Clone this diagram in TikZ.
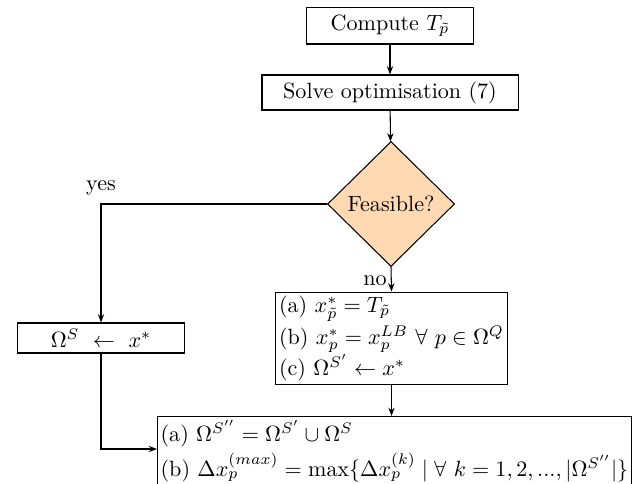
\RequirePackage{fix-cm}
\documentclass[tikz,border=0pt]{standalone}
\usetikzlibrary{shapes.geometric,arrows.meta}
\begin{document}
\begin{tikzpicture}[x=0.48pt,y=-0.48pt,
  line width=0.5pt,
  font=\fontsize{10.6pt}{12.7pt}\selectfont,
  >={Stealth[length=4pt,width=3pt]},
  stepbox/.style={draw,rectangle,inner sep=1pt},
  decision/.style={draw,diamond,aspect=1,fill=orange!30,inner sep=0pt,
    minimum width=61pt,minimum height=60pt},
  listbox/.style={draw,rectangle,align=left,inner xsep=1.5pt,inner ysep=1pt}]
  \useasboundingbox (0,0) rectangle (643,483);
  \clip (0,0) rectangle (643,483);

  % main column
  \node[stepbox,minimum width=80.6pt,minimum height=17.3pt] (comp) at (390,26) {Compute $T_{\tilde p}$};
  \node[stepbox,minimum width=122.9pt,minimum height=16.8pt] (solve) at (390,92.5) {Solve optimisation (7)};
  \node[decision] (feas) at (391,204) {Feasible?};
  \node[listbox,minimum width=110pt,minimum height=44.6pt] (upd) at (391.5,338.5)
    {(a) $x^*_{\tilde p} = T_{\tilde p}$\\[1pt]
     (b) $x^*_p = x^{LB}_p \ \forall\ p \in \Omega^Q$\\
     (c) $\Omega^{S'} \leftarrow x^*$};

  % feasible branch
  \node[stepbox,minimum width=80.6pt,minimum height=14.4pt] (keep) at (101,338) {$\Omega^S \ \leftarrow\ x^*$};

  % merge step (runs on past the lower edge)
  \node[listbox,anchor=north west,minimum width=224.6pt,inner ysep=2pt,text depth=14pt] (merge) at (157,416)
    {(a) $\Omega^{S''} = \Omega^{S'} \cup \Omega^S$\\[2pt]
     (b) $\Delta x_p^{(max)} = \max\{\Delta x_p^{(k)} \mid \forall\ k = 1, 2, ..., |\Omega^{S''}|\}$};
  \coordinate (mergein) at (157,449);

  % connectors
  \draw[->] (comp) -- (solve);
  \draw[->] (solve) -- (feas);
  \draw[->] (feas.south) -- node[left,pos=0.55,inner sep=2pt] (nolab) {no} (upd.north);
  \draw[->] (feas.west) -| (keep.north);
  \node (yeslab) at (101,188) {yes};
  \draw[->] (upd.south) -- (merge.north -| upd.south);
  \draw[->] (keep.south) |- (mergein);
\end{tikzpicture}
\end{document}
